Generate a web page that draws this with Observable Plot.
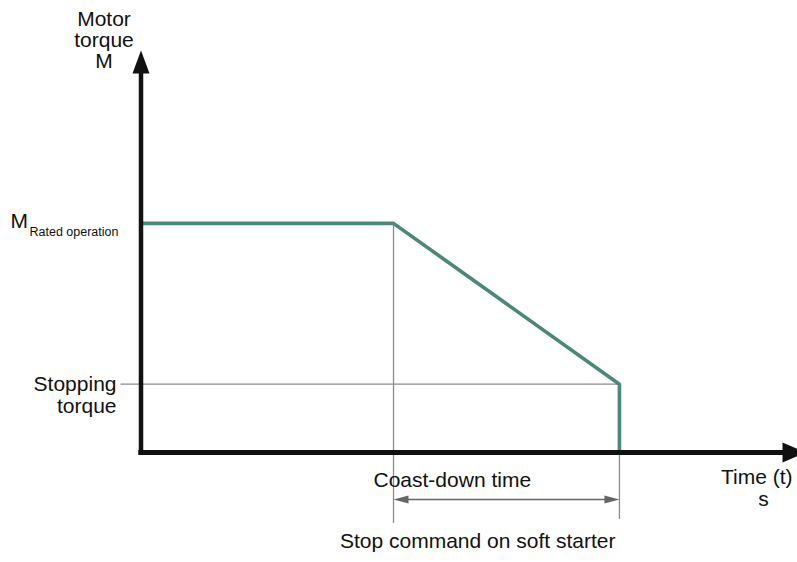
<!DOCTYPE html>
<html>
<head>
<meta charset="utf-8">
<script src="https://cdn.jsdelivr.net/npm/d3@7"></script>
<script src="https://cdn.jsdelivr.net/npm/@observablehq/plot@0.6"></script>
<style>
  html, body { margin: 0; padding: 0; background: #fff; }
  #chart svg { display: block; font-family: "Liberation Sans", Arial, sans-serif; }
</style>
</head>
<body>
<div id="chart"></div>
<script>
// ---- data ----
const axisMax = 10;                 // end of both axes (arrow tips)
const curveTime   = [0, 3.8, 7.2, 7.2];   // time points of the torque curve
const curveTorque = [5.7, 5.7, 1.7, 0];   // motor torque at those points
const tStopCommand = 3.8;           // stop command on soft starter
const tCoastEnd = 7.2;              // end of coast-down
const ratedTorque = 5.7;            // M rated operation
const stoppingTorque = 1.7;         // stopping torque

const yAxisTitle = "Motor\ntorque\nM";
const ratedMain = "M";
const ratedSub = "Rated operation";
const stoppingLabel = "Stopping\ntorque";
const coastLabel = "Coast-down time";
const stopCmdLabel = "Stop command on soft starter";
const xAxisTitle = "Time (t)";
const xAxisUnit = "s";

const curve = curveTime.map((t, i) => ({t, m: curveTorque[i]}));

const triangle = {
  draw(ctx, l, r) {
    ctx.moveTo(0, -l);
    ctx.lineTo(r, 0);
    ctx.lineTo(-r, 0);
    ctx.closePath();
  }
};

const ink = "#111";
const green = "#4a8879";
const gray = "#8c8c8c";
const font = "Liberation Sans, Arial, sans-serif";

const chart = Plot.plot({
  width: 797,
  height: 562,
  marginTop: 0, marginBottom: 0, marginLeft: 0, marginRight: 0,
  x: {domain: [0, axisMax], range: [140.5, 805], axis: null},
  y: {domain: [0, axisMax], range: [452, 50], axis: null},
  style: {fontFamily: font, background: "#fff"},
  marks: [
    // thin guide lines
    Plot.ruleX([tStopCommand], {x: d => d, y1: ratedTorque, y2: 0, stroke: gray, strokeWidth: 1.3, insetBottom: -71}),
    Plot.ruleX([tCoastEnd], {x: d => d, y1: stoppingTorque, y2: 0, stroke: gray, strokeWidth: 1.3, insetBottom: -67}),
    Plot.ruleY([stoppingTorque], {y: d => d, x1: 0, x2: tCoastEnd, stroke: gray, strokeWidth: 1.3, insetLeft: -20}),
    // coast-down double arrow
    Plot.ruleY([0], {x1: tStopCommand, x2: tCoastEnd, y: d => d, dy: 47, stroke: "#666", strokeWidth: 1.5, insetLeft: 12, insetRight: 12}),
    Plot.vector([tStopCommand], {x: d => d, y: 0, dy: 47, rotate: -90, length: 15, anchor: "end", shape: triangle, r: 4, fill: "#666", stroke: "none"}),
    Plot.vector([tCoastEnd], {x: d => d, y: 0, dy: 47, rotate: 90, length: 15, anchor: "end", shape: triangle, r: 4, fill: "#666", stroke: "none"}),
    // torque curve
    Plot.line(curve, {x: "t", y: "m", stroke: green, strokeWidth: 3.6, strokeLinejoin: "miter"}),
    // axes
    Plot.ruleX([0], {x: d => d, y1: axisMax, y2: 0, stroke: ink, strokeWidth: 4.5, insetTop: 20, insetBottom: -2.5}),
    Plot.ruleY([0], {y: d => d, x1: 0, x2: axisMax, stroke: ink, strokeWidth: 5, insetLeft: -2.2, insetRight: 20}),
    Plot.vector([0], {x: 0, y: axisMax, rotate: 0, length: 23, anchor: "end", shape: triangle, r: 8.5, fill: ink, stroke: "none"}),
    Plot.vector([0], {x: axisMax, y: 0, rotate: 90, length: 23, anchor: "end", shape: triangle, r: 10, fill: ink, stroke: "none"}),
    // labels
    Plot.text([yAxisTitle], {x: 0, y: axisMax, text: d => d, dx: -37, dy: 17, lineAnchor: "bottom", lineHeight: 1.0, textAnchor: "middle", fontSize: 21, fill: ink}),
    Plot.text([ratedMain], {x: 0, y: ratedTorque, text: d => d, dx: -130.5, dy: 4.5, lineAnchor: "bottom", textAnchor: "start", fontSize: 21, fill: ink}),
    Plot.text([ratedSub], {x: 0, y: ratedTorque, text: d => d, dx: -111.5, dy: 13, lineAnchor: "bottom", textAnchor: "start", fontSize: 12.5, fill: ink}),
    Plot.text([stoppingLabel], {x: 0, y: stoppingTorque, text: d => d, dx: -24.5, dy: 28.5, lineAnchor: "bottom", lineHeight: 1.02, textAnchor: "end", fontSize: 21, fill: ink}),
    Plot.text([coastLabel], {x: tStopCommand, y: 0, text: d => d, dx: -20, dy: 34, lineAnchor: "bottom", textAnchor: "start", fontSize: 21, fill: ink}),
    Plot.text([stopCmdLabel], {x: tCoastEnd, y: 0, text: d => d, dx: -4, dy: 95, lineAnchor: "bottom", textAnchor: "end", fontSize: 21, fill: ink}),
    Plot.text([xAxisTitle], {x: axisMax, y: 0, text: d => d, dx: -13, dy: 31, lineAnchor: "bottom", textAnchor: "end", fontSize: 21, fill: ink}),
    Plot.text([xAxisUnit], {x: axisMax, y: 0, text: d => d, dx: -42, dy: 53, lineAnchor: "bottom", textAnchor: "middle", fontSize: 21, fill: ink})
  ]
});

document.getElementById("chart").appendChild(chart);
</script>
</body>
</html>
